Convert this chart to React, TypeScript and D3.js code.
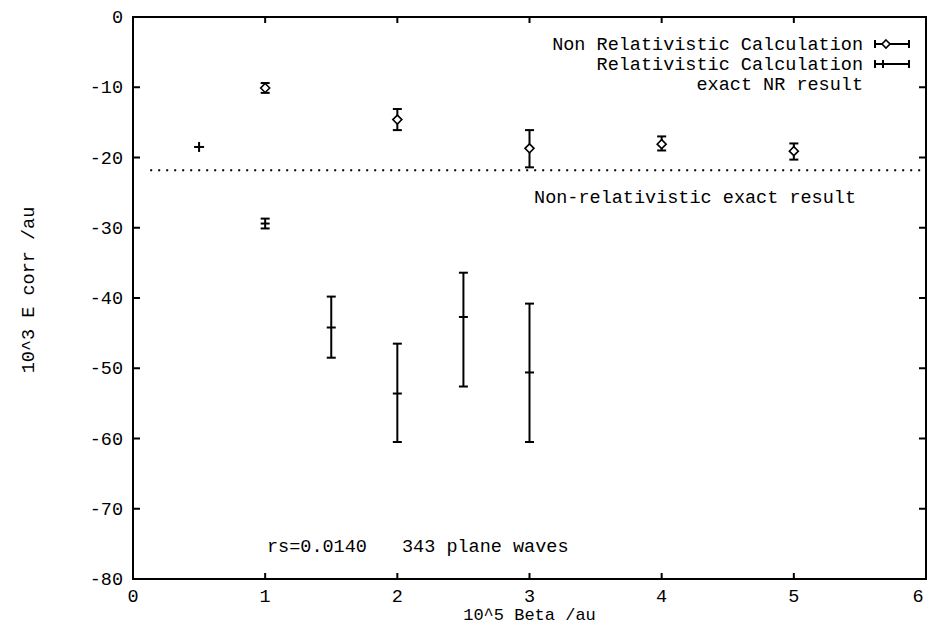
import React from "react";
import * as d3 from "d3";

const xTicks = [0, 1, 2, 3, 4, 5, 6];
const yTicks = [0, -10, -20, -30, -40, -50, -60, -70, -80];

// Non relativistic calculation (value, lower, upper)
const nrX = [1, 2, 3, 4, 5];
const nrY = [-10.1, -14.6, -18.7, -18.1, -19.1];
const nrLow = [-10.8, -16.1, -21.4, -19.0, -20.3];
const nrHigh = [-9.4, -13.1, -16.1, -17.0, -18.0];

// Relativistic calculation (value, lower, upper)
const relX = [1, 1.5, 2, 2.5, 3];
const relY = [-29.4, -44.2, -53.6, -42.7, -50.6];
const relLow = [-30.1, -48.5, -60.5, -52.6, -60.5];
const relHigh = [-28.7, -39.8, -46.5, -36.4, -40.8];

// single point without visible error
const plusX = [0.5];
const plusY = [-18.5];

const exactNR = -21.8;
const exactFromX = 0.13;

const legendLabels = ["Non Relativistic Calculation", "Relativistic Calculation", "exact NR result"];

const FONT = "'Liberation Mono', 'DejaVu Sans Mono', monospace";
const FS = 18.5;

export default function App() {
  const W = 928, H = 624;
  const x = d3.scaleLinear().domain([0, 6]).range([133, 926]);
  const y = d3.scaleLinear().domain([-80, 0]).range([579, 17]);
  const sw = 2;
  const cap = 4.5;

  const diamond = (cx: number, cy: number, r = 4.5) =>
    `M${cx},${cy - r}L${cx + r},${cy}L${cx},${cy + r}L${cx - r},${cy}Z`;

  return (
    <svg width={W} height={H} style={{ position: "absolute", left: 0, top: 0, background: "#fff" }}
      fontFamily={FONT} fontSize={FS}>
      <rect x={0} y={0} width={W} height={H} fill="#fff" />
      {/* frame */}
      <rect x={x(0)} y={y(0)} width={x(6) - x(0)} height={y(-80) - y(0)} fill="none" stroke="#000" strokeWidth={sw} />

      {/* y ticks */}
      {yTicks.map((t) => (
        <g key={"yt" + t}>
          <line x1={x(0)} x2={x(0) + 7} y1={y(t)} y2={y(t)} stroke="#000" strokeWidth={sw} />
          <line x1={x(6)} x2={x(6) - 7} y1={y(t)} y2={y(t)} stroke="#000" strokeWidth={sw} />
          <text x={123} y={y(t) + 6} textAnchor="end" fill="#000">{t === 0 ? "0" : "-" + Math.abs(t)}</text>
        </g>
      ))}
      {/* x ticks */}
      {xTicks.map((t) => (
        <g key={"xt" + t}>
          <line x1={x(t)} x2={x(t)} y1={y(-80)} y2={y(-80) - 6} stroke="#000" strokeWidth={sw} />
          <line x1={x(t)} x2={x(t)} y1={y(0)} y2={y(0) + 6} stroke="#000" strokeWidth={sw} />
          <text x={Math.min(x(t), 918)} y={602} textAnchor="middle" fill="#000">{String(t)}</text>
        </g>
      ))}

      {/* axis labels */}
      <text x={x(3)} y={620} textAnchor="middle" fill="#000" fontSize={17}>10^5 Beta /au</text>
      <text transform={`translate(34,290) rotate(-90)`} textAnchor="middle" fill="#000">10^3 E corr /au</text>

      {/* exact NR line */}
      <line x1={x(exactFromX)} x2={x(6)} y1={y(exactNR)} y2={y(exactNR)} stroke="#000" strokeWidth={2}
        strokeDasharray="2,6" />
      <text x={856} y={203} textAnchor="end" fill="#000">Non-relativistic exact result</text>

      {/* NR error bars */}
      {nrX.map((xv, i) => (
        <g key={"nr" + i} stroke="#000" strokeWidth={sw} fill="none">
          <line x1={x(xv)} x2={x(xv)} y1={y(nrLow[i])} y2={y(nrHigh[i])} />
          <line x1={x(xv) - cap} x2={x(xv) + cap} y1={y(nrLow[i])} y2={y(nrLow[i])} />
          <line x1={x(xv) - cap} x2={x(xv) + cap} y1={y(nrHigh[i])} y2={y(nrHigh[i])} />
          <path d={diamond(x(xv), y(nrY[i]))} fill="#fff" strokeWidth={1.6} />
        </g>
      ))}

      {/* Relativistic error bars */}
      {relX.map((xv, i) => (
        <g key={"rel" + i} stroke="#000" strokeWidth={sw} fill="none">
          <line x1={x(xv)} x2={x(xv)} y1={y(relLow[i])} y2={y(relHigh[i])} />
          <line x1={x(xv) - cap} x2={x(xv) + cap} y1={y(relLow[i])} y2={y(relLow[i])} />
          <line x1={x(xv) - cap} x2={x(xv) + cap} y1={y(relHigh[i])} y2={y(relHigh[i])} />
          <line x1={x(xv) - cap} x2={x(xv) + cap} y1={y(relY[i])} y2={y(relY[i])} />
        </g>
      ))}
      {plusX.map((xv, i) => (
        <g key={"plus" + i} stroke="#000" strokeWidth={sw}>
          <line x1={x(xv) - 5} x2={x(xv) + 5} y1={y(plusY[i])} y2={y(plusY[i])} />
          <line x1={x(xv)} x2={x(xv)} y1={y(plusY[i]) - 5} y2={y(plusY[i]) + 5} />
        </g>
      ))}

      {/* legend */}
      {legendLabels.map((l, i) => (
        <text key={"lg" + i} x={863} y={44 + i * 20 + 6} textAnchor="end" fill="#000">{l}</text>
      ))}
      <g stroke="#000" strokeWidth={sw} fill="none">
        <line x1={875} x2={909} y1={44} y2={44} />
        <line x1={875} x2={875} y1={40} y2={48} />
        <line x1={909} x2={909} y1={40} y2={48} />
        <path d={diamond(886, 44, 4)} fill="#fff" strokeWidth={1.6} />
        <line x1={875} x2={909} y1={64} y2={64} />
        <line x1={875} x2={875} y1={60} y2={68} />
        <line x1={909} x2={909} y1={60} y2={68} />
        <line x1={883} x2={883} y1={60} y2={68} />
      </g>

      {/* annotation */}
      <text x={267} y={552} fill="#000">rs=0.0140</text>
      <text x={402} y={552} fill="#000">343 plane waves</text>
    </svg>
  );
}
